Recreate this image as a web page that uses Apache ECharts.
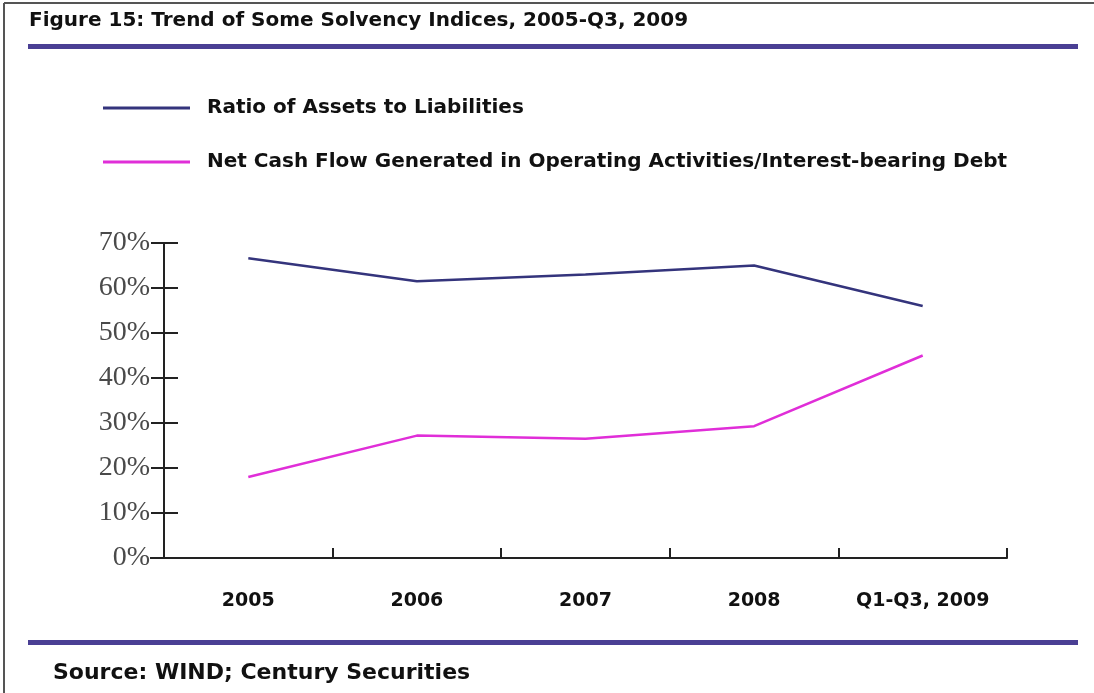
<!DOCTYPE html>
<html>
<head>
<meta charset="utf-8">
<script src="https://cdn.jsdelivr.net/npm/echarts@6/dist/echarts.min.js"></script>
<style>
  html, body { margin: 0; padding: 0; background: #fff; }
  #chart { width: 1094px; height: 693px; }
</style>
</head>
<body>
<div id="chart"></div>
<script>
// data
var years = ['2005', '2006', '2007', '2008', 'Q1-Q3, 2009']
var assetsRatio = [66.6, 61.5, 63.0, 65.0, 56.0]
var cashFlowDebt = [18.0, 27.2, 26.5, 29.3, 45.0]
var seriesNames = ['Ratio of Assets to Liabilities', 'Net Cash Flow Generated in Operating Activities/Interest-bearing Debt']

var boldFont = 'DejaVu Sans'
var ruleColor = '#4a3f94'

var chart = echarts.init(document.getElementById('chart'))

var yBase = {
  type: 'value',
  min: 0,
  max: 70,
  interval: 10,
  splitLine: {show: false}
}

chart.setOption({
  backgroundColor: '#fff',
  animation: false,
  title: {
    text: 'Figure 15: Trend of Some Solvency Indices, 2005-Q3, 2009',
    left: 24,
    top: 6,
    textStyle: {fontFamily: boldFont, fontWeight: 'bold', fontSize: 20, color: '#111'}
  },
  legend: {
    orient: 'vertical',
    left: 103,
    top: 98,
    padding: 0,
    itemWidth: 87,
    itemHeight: 3,
    itemGap: 34,
    icon: 'rect',
    data: seriesNames,
    textStyle: {fontFamily: boldFont, fontWeight: 'bold', fontSize: 20, color: '#111', padding: [0, 0, 0, 12]}
  },
  grid: {left: 164, right: 87, top: 243, bottom: 135},
  xAxis: {
    type: 'category',
    data: years,
    boundaryGap: true,
    axisLine: {lineStyle: {color: '#222', width: 2}},
    axisTick: {show: true, interval: 0, alignWithLabel: false, inside: true, length: 10, lineStyle: {color: '#222', width: 2}},
    axisLabel: {interval: 0, hideOverlap: false, margin: 34, fontFamily: boldFont, fontWeight: 'bold', fontSize: 19, color: '#111'}
  },
  yAxis: [
    Object.assign({}, yBase, {
      axisLine: {show: true, lineStyle: {color: '#222', width: 2}},
      axisTick: {show: true, length: 13, lineStyle: {color: '#222', width: 2}},
      axisLabel: {margin: 14, fontFamily: 'Liberation Serif', fontSize: 28, color: '#4a4a4a', formatter: '{value}%'}
    }),
    Object.assign({}, yBase, {
      position: 'left',
      axisLine: {show: false},
      axisTick: {show: true, inside: true, length: 14, lineStyle: {color: '#222', width: 2}},
      axisLabel: {show: false}
    })
  ],
  series: [
    {
      name: seriesNames[0],
      type: 'line',
      data: assetsRatio,
      symbol: 'none',
      color: '#34347c',
      lineStyle: {width: 2.5, color: '#34347c'}
    },
    {
      name: seriesNames[1],
      type: 'line',
      data: cashFlowDebt,
      symbol: 'none',
      color: '#e02ed8',
      lineStyle: {width: 2.5, color: '#e02ed8'}
    }
  ],
  graphic: [
    {type: 'line', shape: {x1: 4, y1: 3, x2: 1094, y2: 3}, style: {stroke: '#555', lineWidth: 2}},
    {type: 'line', shape: {x1: 4, y1: 3, x2: 4, y2: 693}, style: {stroke: '#555', lineWidth: 2}},
    {type: 'rect', shape: {x: 28, y: 44, width: 1050, height: 5}, style: {fill: ruleColor}},
    {type: 'rect', shape: {x: 28, y: 640, width: 1050, height: 5}, style: {fill: ruleColor}},
    {type: 'line', shape: {x1: 150, y1: 558, x2: 164, y2: 558}, style: {stroke: '#222', lineWidth: 2}},
    {
      type: 'text',
      left: 53,
      top: 662,
      style: {text: 'Source: WIND; Century Securities', fontFamily: boldFont, fontWeight: 'bold', fontSize: 22, fill: '#111'}
    }
  ]
})
</script>
</body>
</html>
